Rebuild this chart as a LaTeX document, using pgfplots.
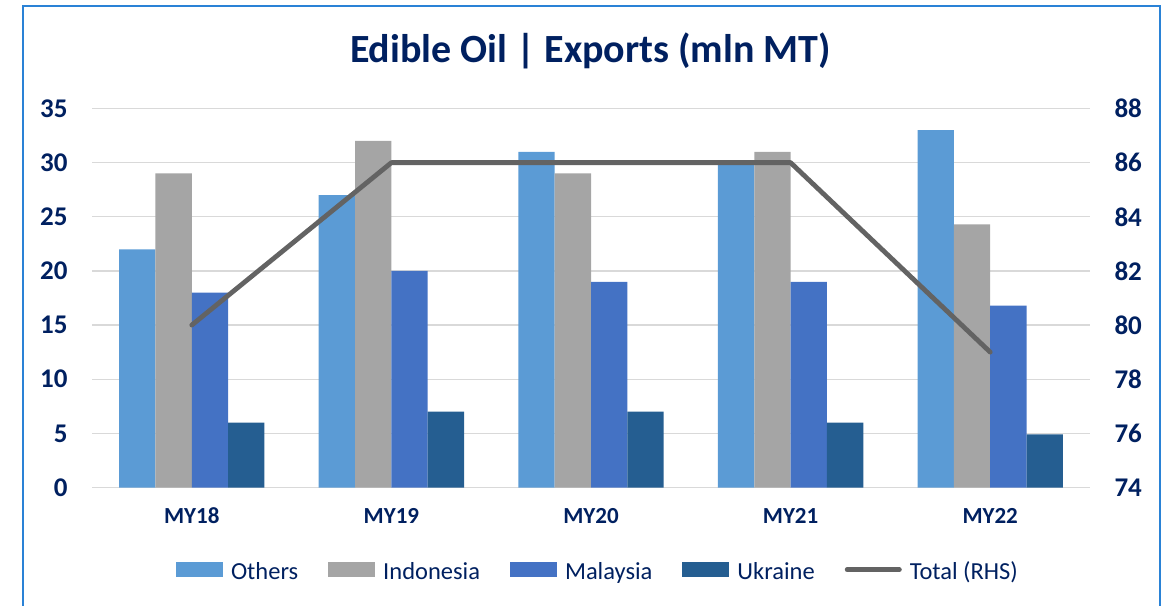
\documentclass[border=0pt]{standalone}
\usepackage{fontspec}
\setmainfont{Carlito}
\usepackage{pgfplots}
\pgfplotsset{compat=1.18}
\definecolor{navy}{HTML}{002060}
\definecolor{cOthers}{HTML}{5B9BD5}
\definecolor{cIndo}{HTML}{A5A5A5}
\definecolor{cMalay}{HTML}{4472C4}
\definecolor{cUkr}{HTML}{255E91}
\definecolor{lineGray}{HTML}{636363}
\definecolor{gridgray}{HTML}{D9D9D9}
\definecolor{border}{HTML}{2A82D6}
\pgfplotsset{barleg/.style={legend image code/.code={\fill[##1,draw=none] (0bp,-6bp) rectangle (47bp,9bp);}}}
\begin{document}
\begin{tikzpicture}
\path[use as bounding box] (0bp,0bp) rectangle (1166bp,606bp);
\draw[border, line width=2.5bp] (23bp,0bp) -- (23bp,600bp) -- (1160bp,600bp) -- (1160bp,0bp);
\node[anchor=base, font=\bfseries\fontsize{40bp}{46bp}\selectfont, text=navy, inner sep=0pt] at (590.5bp,543bp) {Edible Oil | Exports (mln MT)};
\begin{axis}[
  at={(92bp,118.5bp)}, anchor=south west,
  scale only axis, width=998bp, height=379bp,
  xmin=-0.5, xmax=4.5, ymin=0, ymax=35,
  ytick={0,5,...,35},
  xtick={0,1,2,3,4},
  xticklabels={MY18,MY19,MY20,MY21,MY22},
  ybar=0pt, bar width=0.182,
  ymajorgrids, grid style={line width=1.3bp, color=gridgray},
  axis line style={draw=none},
  major tick length=0pt,
  /pgf/number format/assume math mode=true,
  yticklabel style={font=\bfseries\fontsize{27bp}{31bp}\selectfont, text=navy, xshift=-21bp},
  xticklabel style={font=\bfseries\fontsize{23bp}{28bp}\selectfont, text=navy, yshift=-17bp},
  legend columns=5,
  legend style={draw=none, fill=none, at={(0.506,-0.221)}, anchor=center,
    font=\fontsize{24.5bp}{29bp}\selectfont, text=navy,
    nodes={inner sep=0pt},
    /tikz/every odd column/.append style={column sep=8bp},
    /tikz/every even column/.append style={column sep=30bp}},
]
\addplot[fill=cOthers, draw=none, barleg] coordinates {(0,22) (1,27) (2,31) (3,30) (4,33)};
\addlegendentry{Others}
\addplot[fill=cIndo, draw=none, barleg] coordinates {(0,29) (1,32) (2,29) (3,31) (4,24.3)};
\addlegendentry{Indonesia}
\addplot[fill=cMalay, draw=none, barleg] coordinates {(0,18) (1,20) (2,19) (3,19) (4,16.8)};
\addlegendentry{Malaysia}
\addplot[fill=cUkr, draw=none, barleg] coordinates {(0,6) (1,7) (2,7) (3,6) (4,4.9)};
\addlegendentry{Ukraine}
\addlegendimage{legend image code/.code={\draw[line width=5bp, color=lineGray, line cap=round] (2bp,1.5bp) -- (54bp,1.5bp);}}
\addlegendentry{Total (RHS)}
\end{axis}
\begin{axis}[
  at={(92bp,118.5bp)}, anchor=south west,
  scale only axis, width=998bp, height=379bp,
  xmin=-0.5, xmax=4.5, ymin=74, ymax=88,
  ytick={74,76,...,88},
  axis y line*=right, axis x line=none,
  axis line style={draw=none},
  major tick length=0pt,
  /pgf/number format/assume math mode=true,
  yticklabel style={font=\bfseries\fontsize{27bp}{31bp}\selectfont, text=navy, xshift=21bp},
]
\addplot[color=lineGray, line width=4.8bp, line join=round, line cap=round, mark=none] coordinates {(0,80) (1,86) (2,86) (3,86) (4,79)};
\end{axis}
\end{tikzpicture}
\end{document}
